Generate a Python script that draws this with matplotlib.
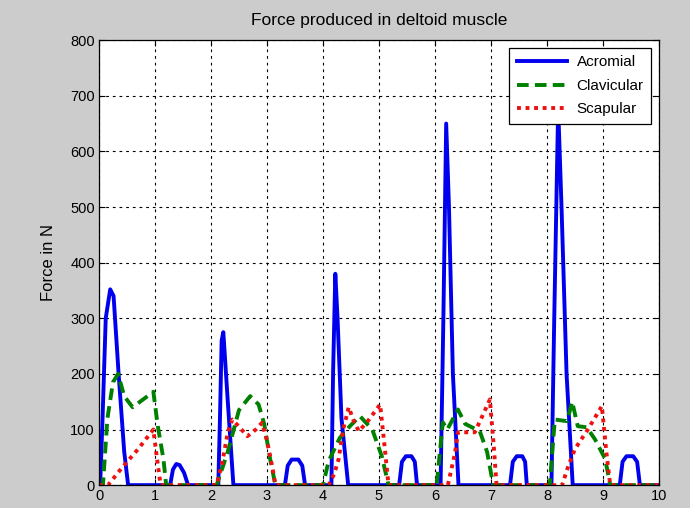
import matplotlib
matplotlib.use("Agg")
import matplotlib.pyplot as plt

plt.rcParams['font.family'] = ['Liberation Sans', 'DejaVu Sans']

title = "Force produced in deltoid muscle"
ylabel = "Force in N"
series_names = ["Acromial", "Clavicular", "Scapular"]
x_ticks = [0, 1, 2, 3, 4, 5, 6, 7, 8, 9, 10]
y_ticks = [0, 100, 200, 300, 400, 500, 600, 700, 800]

t_acromial = [0, 0.02, 0.06, 0.12, 0.2, 0.26, 0.35, 0.45, 0.52,
              1.27, 1.32, 1.38, 1.44, 1.52, 1.59,
              2.13, 2.16, 2.19, 2.22, 2.3, 2.4,
              3.32, 3.37, 3.44, 3.56, 3.63, 3.68,
              4.15, 4.18, 4.22, 4.26, 4.33, 4.45,
              5.36, 5.41, 5.48, 5.58, 5.64, 5.68,
              6.1, 6.15, 6.2, 6.25, 6.32, 6.42,
              7.34, 7.39, 7.46, 7.56, 7.61, 7.64,
              8.08, 8.13, 8.2, 8.26, 8.35, 8.46,
              9.3, 9.35, 9.42, 9.54, 9.61, 9.66, 10]
f_acromial = [0, 0, 110, 300, 352, 340, 200, 60, 0,
              0, 28, 38, 36, 22, 0,
              0, 120, 260, 275, 150, 0,
              0, 35, 46, 46, 35, 0,
              0, 200, 380, 300, 120, 0,
              0, 42, 52, 52, 42, 0,
              0, 300, 650, 500, 200, 0,
              0, 42, 52, 52, 42, 0,
              0, 300, 680, 500, 200, 0,
              0, 42, 52, 52, 42, 0, 0]

t_clavicular = [0, 0.07, 0.15, 0.25, 0.34, 0.45, 0.6, 0.8, 0.97, 1.05, 1.15, 1.2,
                2.1, 2.2, 2.3, 2.5, 2.7, 2.85, 2.95, 3.05, 3.15,
                4.0, 4.1, 4.3, 4.48, 4.66, 4.88, 5.05, 5.17,
                6.03, 6.14, 6.22, 6.41, 6.54, 6.8, 6.93, 7.04,
                8.05, 8.14, 8.36, 8.45, 8.55, 8.71, 8.86, 9.04, 9.13, 10]
f_clavicular = [0, 0, 120, 185, 200, 160, 140, 155, 168, 106, 47, 0,
                0, 30, 60, 135, 160, 145, 110, 50, 0,
                0, 43, 85, 106, 124, 100, 52, 0,
                0, 113, 100, 136, 110, 97, 60, 0,
                0, 118, 115, 150, 106, 104, 82, 47, 0, 0]

t_scapular = [0, 0.16, 0.4, 0.7, 0.97, 1.03, 1.1,
              2.1, 2.2, 2.3, 2.38, 2.5, 2.65, 2.8, 2.91, 3.0, 3.1, 3.15,
              4.1, 4.2, 4.28, 4.36, 4.46, 4.55, 4.64, 4.8, 5.02, 5.1, 5.17,
              6.23, 6.36, 6.41, 6.71, 6.85, 6.98, 7.05, 7.1,
              8.27, 8.38, 8.5, 8.73, 8.98, 9.06, 9.13, 10]
f_scapular = [0, 0, 30, 65, 100, 52, 0,
              0, 40, 95, 118, 105, 88, 100, 112, 80, 30, 0,
              0, 20, 47, 100, 140, 115, 97, 115, 145, 70, 0,
              0, 59, 95, 95, 125, 154, 70, 0,
              0, 34, 65, 100, 142, 60, 0, 0]

fig = plt.figure(figsize=(6.9, 5.08), dpi=100, facecolor='#cccccc')
ax = fig.add_axes([0.1435, 0.045, 0.8115, 0.876])
ax.set_facecolor('white')

ax.plot(t_acromial, f_acromial, color='#0000ee', lw=2.8, label=series_names[0])
ax.plot(t_clavicular, f_clavicular, color='#008000', lw=2.8, ls=(0, (3, 1.6)), label=series_names[1])
ax.plot(t_scapular, f_scapular, color='#ee1111', lw=2.8, ls=(0, (1, 1.2)), label=series_names[2])

ax.set_xlim(0, 10)
ax.set_ylim(0, 800)
ax.set_xticks(x_ticks)
ax.set_yticks(y_ticks)
ax.tick_params(direction='in', top=True, right=True, length=4, labelsize=10.5, pad=3, colors='black')
ax.grid(True, color='black', ls=(0, (2.5, 3.5)), lw=0.8)
for sp in ax.spines.values():
    sp.set_color('black')
    sp.set_linewidth(0.9)

ax.set_title(title, fontsize=12.5, pad=11)
ax.set_ylabel(ylabel, fontsize=12, labelpad=10)

leg = ax.legend(loc='upper right', fontsize=11, handlelength=3.3, borderaxespad=0.5,
                fancybox=False, framealpha=1, edgecolor='black', labelspacing=0.62,
                handletextpad=0.6, borderpad=0.5)
leg.get_frame().set_linewidth(0.9)

fig.savefig('out.png', dpi=100, facecolor=fig.get_facecolor())
